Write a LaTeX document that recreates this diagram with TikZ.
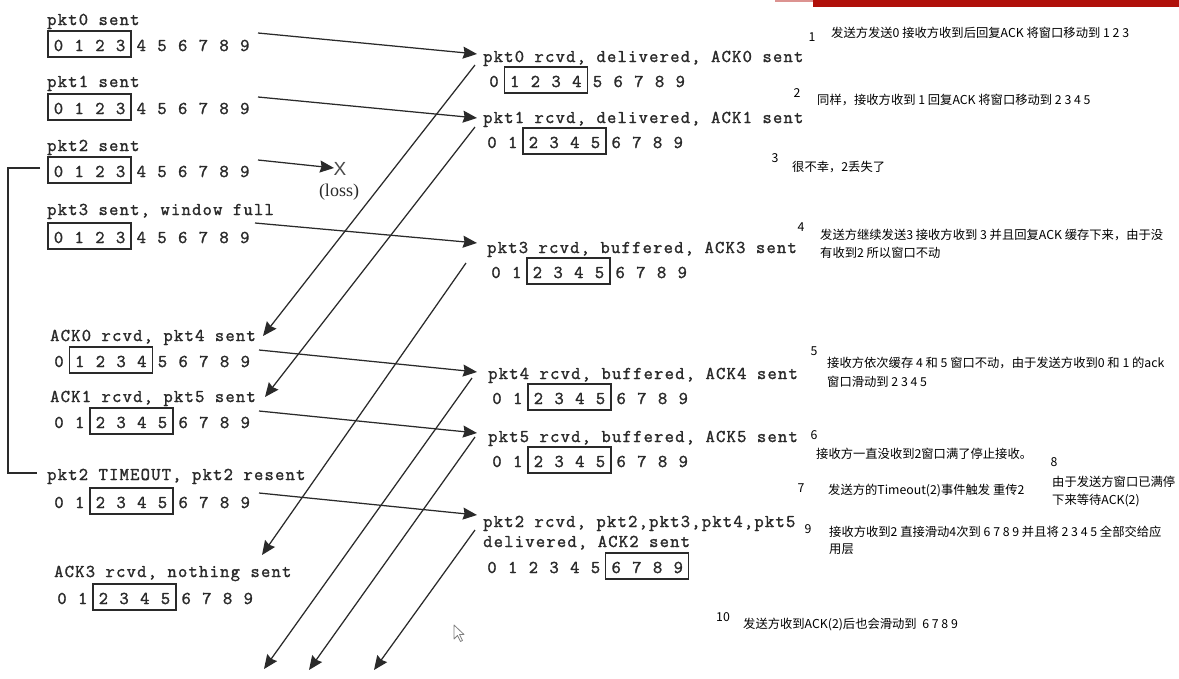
\documentclass[tikz,border=0pt]{standalone}
\usepackage{fontspec}
\newfontfamily\cour{Latin Modern Mono}[LetterSpace=7,FakeBold=1.6]
\newfontfamily\courd{Latin Modern Mono}[FakeBold=1.6]
\newfontfamily\cjk{Noto Sans CJK SC}
\newfontfamily\serifL{Liberation Serif}
\newfontfamily\sansL{Liberation Sans}
\usetikzlibrary{arrows.meta}
\definecolor{txt}{HTML}{2A2A2A}
\definecolor{barred}{HTML}{B0100A}
\newcommand\digrow[5]{%
  \foreach \i in {0,...,9} {\node[dig] (#1d\i) at ({#2+20.7*\i},#3) {\i};}
  \draw[win] ({#2+20.7*#4-10.5},#3-20) rectangle ({#2+20.7*#5+10.5},#3+6);
}
\begin{document}
\begin{tikzpicture}[x=1pt,y=-1pt,
  mono/.style={font=\cour\fontsize{18}{20}\selectfont, inner sep=0pt, anchor=base west, text=txt},
  dig/.style={font=\courd\fontsize{18}{20}\selectfont, inner sep=0pt, anchor=base, text=txt},
  win/.style={draw=txt, line width=1.3pt},
  msg/.style={draw=txt, line width=1.25pt, -{Stealth[length=14pt,width=12pt,inset=1.5pt]}},
  note/.style={font=\cjk\fontsize{12.3}{15}\selectfont, inner sep=0pt, anchor=base west},
  num/.style={font=\cjk\fontsize{12.3}{15}\selectfont, inner sep=0pt, anchor=base}]
\useasboundingbox (0,0) rectangle (1179,678);
\fill[white] (0,0) rectangle (1179,678);
% title bar remnant
\fill[barred] (813,0) rectangle (1179,7);
\fill[barred!45] (775,0) rectangle (813,2);

% ---------------- sender side ----------------
\node[mono] (s0) at (47,25) {pkt0 sent};
\digrow{L1}{58.5}{51}{0}{3}
\node[mono] (s1) at (47,87) {pkt1 sent};
\digrow{L2}{58.5}{114}{0}{3}
\node[mono] (s2) at (47,151) {pkt2 sent};
\digrow{L3}{58.5}{177}{0}{3}
\node[mono] (s3) at (47,215) {pkt3 sent, window full};
\digrow{L4}{58.5}{243}{0}{3}
\node[mono] (s4) at (50,341) {ACK0 rcvd, pkt4 sent};
\digrow{L5}{59}{367}{1}{4}
\node[mono] (s5) at (50,402) {ACK1 rcvd, pkt5 sent};
\digrow{L6}{59}{428}{2}{5}
\node[mono] (s6) at (47,480) {pkt2 TIMEOUT, pkt2 resent};
\digrow{L7}{59}{508}{2}{5}
\node[mono] (s7) at (54,577) {ACK3 rcvd, nothing sent};
\digrow{L8}{62}{604}{2}{5}

% timeout bracket
\coordinate (brT) at (40,168);
\coordinate (brB) at (37,473);
\draw[txt, line width=1.1pt] (brT) -- ++(-32,0) |- (brB);

% ---------------- receiver side ----------------
\node[mono] (r0) at (483,62) {pkt0 rcvd, delivered, ACK0 sent};
\digrow{R1}{494}{87}{1}{4}
\node[mono] (r1) at (483,123) {pkt1 rcvd, delivered, ACK1 sent};
\digrow{R2}{492}{148}{2}{5}
\node[mono] (r3) at (487,253) {pkt3 rcvd, buffered, ACK3 sent};
\digrow{R3}{496}{278}{2}{5}
\node[mono] (r4) at (488,379) {pkt4 rcvd, buffered, ACK4 sent};
\digrow{R4}{497}{404}{2}{5}
\node[mono] (r5) at (488,442) {pkt5 rcvd, buffered, ACK5 sent};
\digrow{R5}{497}{467}{2}{5}
\node[mono] (r6a) at (483,527) {pkt2 rcvd, pkt2,pkt3,pkt4,pkt5};
\node[mono] (r6b) at (483,547) {delivered, ACK2 sent};
\digrow{R6}{492}{573}{6}{9}

% ---------------- packets (sender -> receiver) ----------------
\coordinate (a1s) at (258,33);  \coordinate (a1e) at (477,54);
\coordinate (a2s) at (258,97);  \coordinate (a2e) at (477,118);
\coordinate (a3s) at (258,160); \coordinate (a3e) at (334,168);
\coordinate (a4s) at (255,223); \coordinate (a4e) at (477,243);
\coordinate (a5s) at (259,350); \coordinate (a5e) at (477,372);
\coordinate (a6s) at (259,411); \coordinate (a6e) at (477,433);
\coordinate (a7s) at (259,493); \coordinate (a7e) at (477,515);
\draw[msg] (a1s) -- (a1e);
\draw[msg] (a2s) -- (a2e);
\draw[msg] (a3s) -- (a3e);
\draw[msg] (a4s) -- (a4e);
\draw[msg] (a5s) -- (a5e);
\draw[msg] (a6s) -- (a6e);
\draw[msg] (a7s) -- (a7e);
\node[font=\sansL\fontsize{19}{22}\selectfont, text=txt!85, inner sep=0pt] (lx) at (340,169) {X};
\node[font=\serifL\fontsize{18}{20}\selectfont, text=txt, inner sep=0pt, anchor=base] (loss) at (339,196) {(loss)};

% ---------------- ACKs (receiver -> sender) ----------------
\coordinate (b1s) at (475,65);  \coordinate (b1e) at (263,336);
\coordinate (b2s) at (475,127); \coordinate (b2e) at (265,397);
\coordinate (b3s) at (466,263); \coordinate (b3e) at (262,555);
\coordinate (b4s) at (472,378); \coordinate (b4e) at (264,669);
\coordinate (b5s) at (475,437); \coordinate (b5e) at (309,670);
\coordinate (b6s) at (475,530); \coordinate (b6e) at (374,670);
\draw[msg] (b1s) -- (b1e);
\draw[msg] (b2s) -- (b2e);
\draw[msg] (b3s) -- (b3e);
\draw[msg] (b4s) -- (b4e);
\draw[msg] (b5s) -- (b5e);
\draw[msg] (b6s) -- (b6e);

% mouse pointer
\draw[gray, line width=0.8pt, line join=round] (454,625) -- (454,639) -- (457.5,635.5) -- (460.5,641.5) -- (462.5,640.5) -- (459.5,634.5) -- (464,634.5) -- cycle;

% ---------------- notes ----------------
\node[num] (k1) at (812,41) {1};
\node[note] (n1) at (831,37.5) {发送方发送0 接收方收到后回复ACK 将窗口移动到 1 2 3};
\node[num] (k2) at (797,97) {2};
\node[note] (n2) at (817,104.5) {同样，接收方收到 1 回复ACK 将窗口移动到 2 3 4 5};
\node[num] (k3) at (775,162) {3};
\node[note] (n3) at (792,171.5) {很不幸，2丢失了};
\node[num] (k4) at (801,231) {4};
\node[note] (n4a) at (820,239.5) {发送方继续发送3 接收方收到 3 并且回复ACK 缓存下来，由于没};
\node[note] (n4b) at (820,257.5) {有收到2 所以窗口不动};
\node[num] (k5) at (814,355) {5};
\node[note] (n5a) at (827,367.5) {接收方依次缓存 4 和 5 窗口不动，由于发送方收到0 和 1 的ack};
\node[note] (n5b) at (827,386.5) {窗口滑动到 2 3 4 5};
\node[num] (k6) at (814,439) {6};
\node[note] (n6) at (816,458.5) {接收方一直没收到2窗口满了停止接收。};
\node[num] (k7) at (801,492) {7};
\node[note] (n7) at (828,494.5) {发送方的Timeout(2)事件触发 重传2};
\node[num] (k8) at (1054,466) {8};
\node[note] (n8a) at (1052,486.5) {由于发送方窗口已满停};
\node[note] (n8b) at (1052,504.5) {下来等待ACK(2)};
\node[num] (k9) at (808,533) {9};
\node[note] (n9a) at (829,536.5) {接收方收到2 直接滑动4次到 6 7 8 9 并且将 2 3 4 5 全部交给应};
\node[note] (n9b) at (829,553.5) {用层};
\node[num] (k10) at (723,621) {10};
\node[note] (n10) at (743,628.5) {发送方收到ACK(2)后也会滑动到\ \ 6 7 8 9};
\end{tikzpicture}
\end{document}
